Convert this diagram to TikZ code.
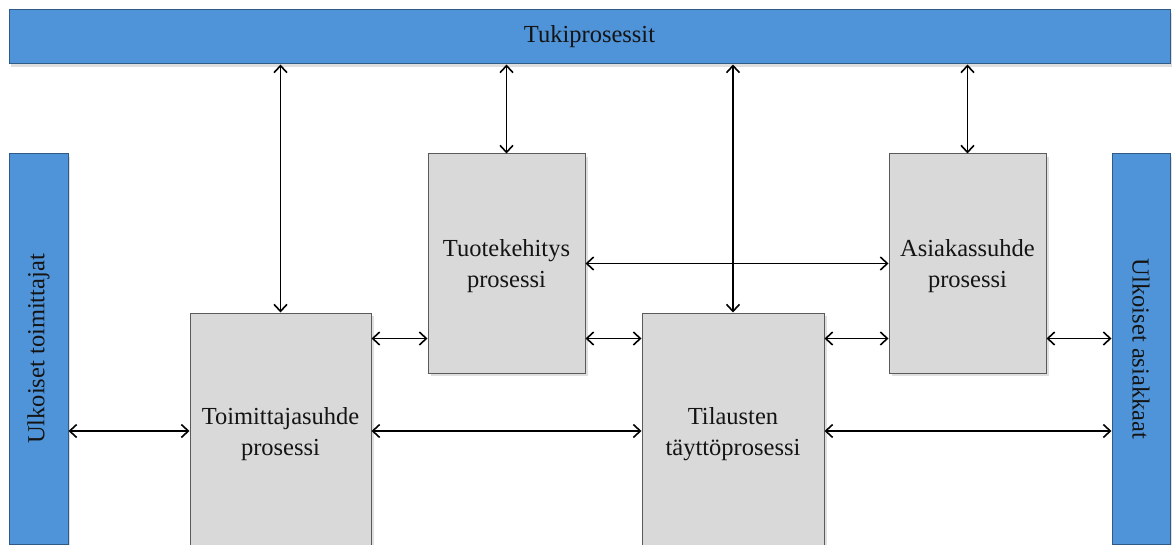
\documentclass[tikz,border=0pt]{standalone}
\usepackage{fontspec}
\setmainfont{Liberation Serif}
\usetikzlibrary{arrows.meta,shadows}
\definecolor{barfill}{HTML}{4F93D8}
\definecolor{barline}{HTML}{2F5B86}
\definecolor{boxfill}{HTML}{D9D9D9}
\definecolor{boxline}{HTML}{5A5A5A}
\definecolor{ink}{HTML}{141414}
\tikzset{
  bar/.style={draw=barline, fill=barfill, line width=1pt, text=ink,
    inner sep=0pt, font=\fontsize{24.5}{30}\selectfont,
    drop shadow={opacity=0.25, shadow xshift=2pt, shadow yshift=-3pt}},
  procbox/.style={draw=boxline, fill=boxfill, line width=1pt, text=ink,
    align=center, inner sep=0pt, text depth=0pt, font=\fontsize{24.5}{31}\selectfont,
    drop shadow={opacity=0.25, shadow xshift=3pt, shadow yshift=-3pt}},
  link/.style={draw=black, line width=1.8pt,
    {Straight Barb[length=7pt,width=13pt,line width=1.6pt]}-{Straight Barb[length=7pt,width=13pt,line width=1.6pt]}}
}
\begin{document}
\begin{tikzpicture}[x=1pt,y=-1pt]
\useasboundingbox (0,0) rectangle (1172,545);
\clip (0,0) rectangle (1172,545);

% support processes across the top, external parties at both sides
\node[bar, minimum width=1161pt, minimum height=54pt] (tuki) at (589.5,37) {Tukiprosessit};
\node[bar, minimum width=59pt, minimum height=390pt] (toim) at (38.5,349)
  {\rotatebox{90}{Ulkoiset toimittajat}};
\node[bar, minimum width=58pt, minimum height=390pt] (asiak) at (1141,349)
  {\rotatebox{-90}{Ulkoiset asiakkaat}};

% core processes
\node[procbox, minimum width=181pt, minimum height=236pt] (tsuhde) at (280.5,431)
  {Toimittajasuhde\\prosessi};
\node[procbox, minimum width=157pt, minimum height=219pt] (tuote) at (506.5,263.5)
  {Tuotekehitys\\prosessi};
\node[procbox, minimum width=182pt, minimum height=236pt] (tilaus) at (733,431)
  {Tilausten\\täyttöprosessi};
\node[procbox, minimum width=157pt, minimum height=219pt] (asuhde) at (967.5,263.5)
  {Asiakassuhde\\prosessi};

% links to the support processes
\draw[link] (tsuhde.north) -- (tsuhde.north |- tuki.south);
\draw[link] (tuote.north) -- (tuote.north |- tuki.south);
\draw[link] (tilaus.north) -- (tilaus.north |- tuki.south);
\draw[link] (asuhde.north) -- (asuhde.north |- tuki.south);

% links between the processes
\draw[link] (tuote.east) -- (asuhde.west);
\coordinate (row) at ([yshift=-26pt]tilaus.north west);
\draw[link] (row -| tsuhde.east) -- (row -| tuote.west);
\draw[link] (row -| tuote.east) -- (row -| tilaus.west);
\draw[link] (row -| tilaus.east) -- (row -| asuhde.west);
\draw[link] (row -| asuhde.east) -- (row -| asiak.west);
\draw[link] (toim.east |- tsuhde.west) -- (tsuhde.west);
\draw[link] (tsuhde.east) -- (tilaus.west);
\draw[link] (tilaus.east) -- (tilaus.east -| asiak.west);
\end{tikzpicture}
\end{document}
